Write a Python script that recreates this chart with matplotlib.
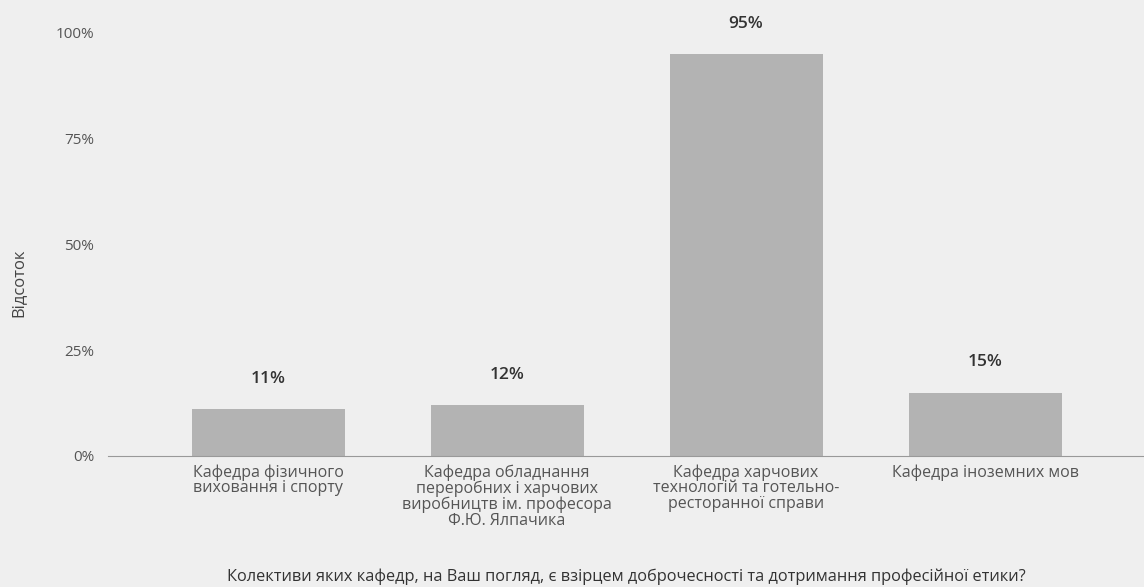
import matplotlib.pyplot as plt
from matplotlib.ticker import PercentFormatter

plt.rcParams['font.family'] = ['Open Sans', 'DejaVu Sans']

categories = [
    'Кафедра фізичного\nвиховання і спорту',
    'Кафедра обладнання\nпереробних і харчових\nвиробництв ім. професора\nФ.Ю. Ялпачика',
    'Кафедра харчових\nтехнологій та готельно-\nресторанної справи',
    'Кафедра іноземних мов',
]
values = [11, 12, 95, 15]
yticks = [0, 25, 50, 75, 100]

bg = '#efefef'
fig = plt.figure(figsize=(11.44, 5.87), dpi=100, facecolor=bg)
ax = fig.add_axes([0.0944, 0.2232, 0.9056, 0.7206], facecolor=bg)

x = range(len(categories))
bars = ax.bar(x, values, width=0.64, color='#b3b3b3')

for xi, v in zip(x, values):
    ax.annotate(f'{v}%', (xi, v), xytext=(0, 16), textcoords='offset points',
                ha='center', va='bottom', fontsize=12.5, color='#333333',
                fontweight='semibold', annotation_clip=False)

ax.set_xlim(-0.67, 3.665)
ax.set_ylim(0, 100)
ax.set_yticks(yticks)
ax.yaxis.set_major_formatter(PercentFormatter(decimals=0))
ax.set_xticks(list(x))
ax.set_xticklabels(categories, fontsize=11.5, color='#555555', linespacing=0.97, va='top')

for s in ['top', 'right', 'left']:
    ax.spines[s].set_visible(False)
ax.spines['bottom'].set_color('#999999')
ax.tick_params(axis='y', length=0, pad=10, labelsize=11, labelcolor='#555555')
ax.tick_params(axis='x', length=0, pad=6)

ax.set_ylabel('Відсоток', fontsize=12, color='#444444')
ax.yaxis.set_label_coords(-0.079, 0.41)
ax.text(0.5, -0.285, 'Колективи яких кафедр, на Ваш погляд, є взірцем доброчесності та дотримання професійної етики?',
        transform=ax.transAxes, ha='center', va='center', fontsize=11.8, color='#333333')

fig.savefig('out.png', dpi=100, facecolor=bg)
